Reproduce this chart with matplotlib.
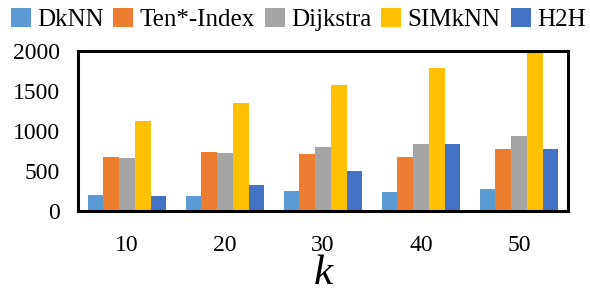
import matplotlib
matplotlib.use("Agg")
import matplotlib.pyplot as plt
import numpy as np

categories = ["10", "20", "30", "40", "50"]
series_names = ["DkNN", "Ten*-Index", "Dijkstra", "SIMkNN", "H2H"]
dknn = [207, 195, 257, 245, 282]
ten_index = [676, 739, 718, 680, 780]
dijkstra = [668, 730, 805, 842, 942]
simknn = [1129, 1353, 1577, 1788, 2000]
h2h = [195, 332, 506, 842, 780]
yticks = [0, 500, 1000, 1500, 2000]
colors = ["#5B9BD5", "#ED7D31", "#A5A5A5", "#FFC000", "#4472C4"]

plt.rcParams['font.family'] = ['Liberation Serif', 'DejaVu Serif']

fig = plt.figure(figsize=(5.9, 3.02), dpi=100)
ax = fig.add_axes([0.1322, 0.2997, 0.8305, 0.5313])

x = np.arange(len(categories))
w = 0.16
data = [dknn, ten_index, dijkstra, simknn, h2h]
handles = []
for i, (name, vals, c) in enumerate(zip(series_names, data, colors)):
    b = ax.bar(x + (i - 2) * w, vals, width=w, color=c, label=name, linewidth=0)
    handles.append(b)

ax.set_xlim(-0.5, len(categories) - 0.5)
ax.set_ylim(0, 2000)
ax.set_yticks(yticks)
ax.set_yticklabels([str(t) for t in yticks])
ax.set_xticks(x)
ax.set_xticklabels(categories)
ax.tick_params(axis='y', length=0, pad=13, labelsize=17)
ax.tick_params(axis='x', length=0, pad=17, labelsize=17)
for s in ax.spines.values():
    s.set_linewidth(2.2)
    s.set_color('black')
ax.set_xlabel("k", fontsize=31, fontstyle='italic', labelpad=-1)

fig.legend(handles=handles, labels=series_names, loc='upper left',
           bbox_to_anchor=(10.7 / 590, 1 - 7.5 / 302), ncol=5, frameon=False,
           fontsize=18, handlelength=0.8, handleheight=0.8,
           handletextpad=0.25, columnspacing=0.4, borderaxespad=0,
           borderpad=0)

fig.savefig("out.png", dpi=100)
